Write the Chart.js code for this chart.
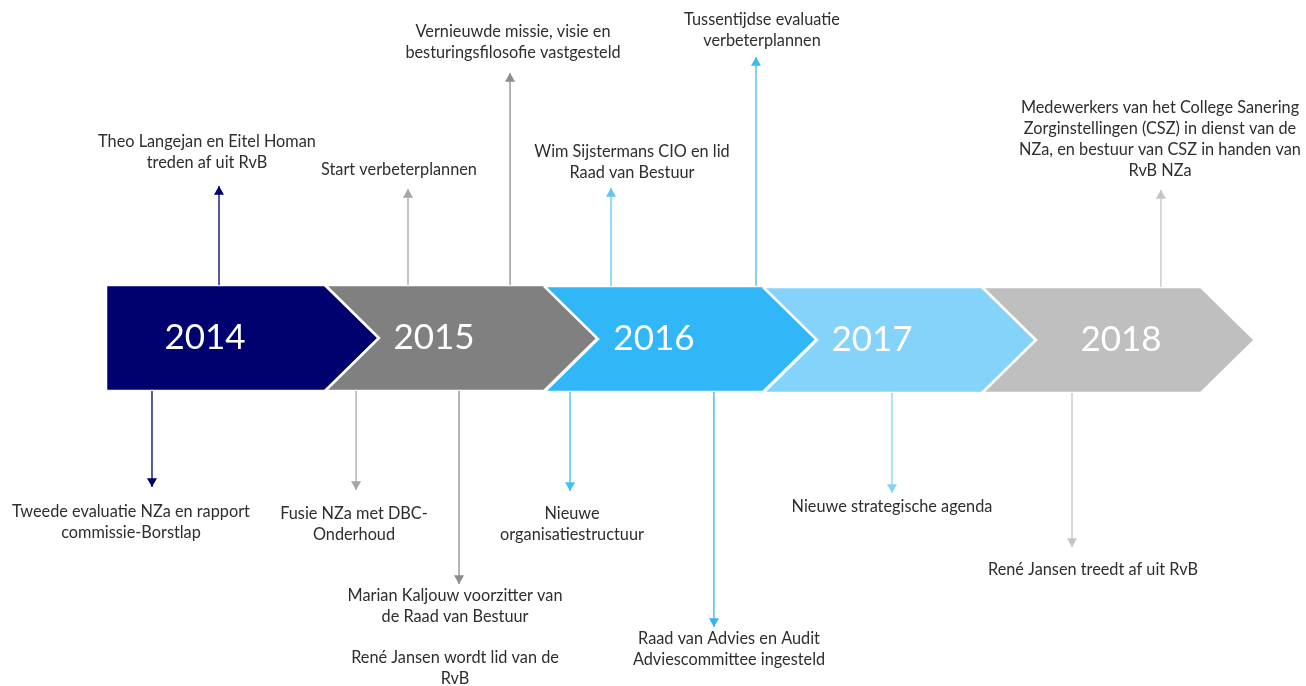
<!DOCTYPE html>
<html>
<head>
<meta charset="utf-8">
<script src="https://cdn.jsdelivr.net/npm/chart.js@4/dist/chart.umd.min.js"></script>
<style>
html,body{margin:0;padding:0;background:#fff;overflow:hidden}
#wrap{width:1306px;height:686px}
</style>
</head>
<body>
<div id="wrap"><canvas id="c" width="1306" height="686"></canvas></div>
<script>
// ---------- DATA ----------
const years = ['2014', '2015', '2016', '2017', '2018'];
const yearStart = [2014, 2015, 2016, 2017, 2018];

const eventText = [
  ['Theo Langejan en Eitel Homan', 'treden af uit RvB'],
  ['Tweede evaluatie NZa en rapport', 'commissie-Borstlap'],
  ['Start verbeterplannen'],
  ['Vernieuwde missie, visie en', 'besturingsfilosofie vastgesteld'],
  ['Fusie NZa met DBC-', 'Onderhoud'],
  ['Marian Kaljouw voorzitter van', 'de Raad van Bestuur', '', 'René Jansen wordt lid van de', 'RvB'],
  ['Wim Sijstermans CIO en lid', 'Raad van Bestuur'],
  ['Tussentijdse evaluatie', 'verbeterplannen'],
  ['Nieuwe', 'organisatiestructuur'],
  ['Raad van Advies en Audit', 'Adviescommittee ingesteld'],
  ['Nieuwe strategische agenda'],
  ['Medewerkers van het College Sanering', 'Zorginstellingen (CSZ) in dienst van de', 'NZa, en bestuur van CSZ in handen van', 'RvB NZa'],
  ['René Jansen treedt af uit RvB']
];
// position of each event on the time axis (fractional year)
const eventDate = [2014.516, 2014.210, 2015.379, 2015.845, 2015.142, 2015.612, 2016.306, 2016.968, 2016.119, 2016.776, 2017.589, 2018.817, 2018.411];
// which side of the band the event sits on
const eventSide = ['up', 'down', 'up', 'up', 'down', 'down', 'up', 'up', 'down', 'down', 'down', 'up', 'down'];
// how far the stalk reaches (level of the arrow tip)
const eventReach = [186, 487, 189, 73, 490, 584, 188, 57, 491, 627, 493, 190, 547];
// year band each event belongs to
const eventYearIdx = [0, 0, 1, 1, 1, 1, 2, 2, 2, 2, 3, 4, 4];

// ---------- STYLE / LAYOUT ----------
const yearColors = ['#00006E', '#808080', '#31B6F7', '#84D3FA', '#BFBFBF'];
const arrowColors = ['#00006E', '#00006E', '#A6A6A6', '#8C8C8C', '#A6A6A6', '#8C8C8C', '#5EC6F6', '#3DB9F5', '#45BEF7', '#33B5F5', '#84D3FA', '#C4C4C4', '#C4C4C4'];
const PX_PER_YEAR = 219;
const X_MIN = 2014 - 106 / PX_PER_YEAR;
const X_MAX = X_MIN + 1306 / PX_PER_YEAR;
const BAND_TOP = 285, BAND_BOT = 391, BAND_MID = 338;
const bandShift = [0, 0, 1, 2, 2];
const TIP = 54 / PX_PER_YEAR;
const HEAD_R = 5.8;
const yearLabelAt = [2014.452, 2015.498, 2016.502, 2017.498, 2018.635];
// label anchor: [x center (px), y of first line center (px)]
const labelPos = [
  [207, 142], [131, 512], [399, 170], [513, 32], [354, 514], [455, 596],
  [632, 152], [762, 20], [572, 514], [729, 639], [892, 507], [1160, 108], [1093, 570]
];
const LINE_H = 21;
const TEXT_FONT = '400 16.3px Lato, "Open Sans", sans-serif';
const YEAR_FONT = '400 35px Lato, "Open Sans", sans-serif';

// ---------- DATASETS ----------
const datasets = [];
yearStart.forEach((s, i) => {
  const e = s + 1;
  const t = BAND_TOP + bandShift[i], b = BAND_BOT + bandShift[i], m = BAND_MID + bandShift[i];
  const pts = i === 0
    ? [{x: s, y: t}, {x: e, y: t}, {x: e + TIP, y: m}, {x: e, y: b}, {x: s, y: b}, {x: s, y: t}]
    : [{x: s, y: t}, {x: e, y: t}, {x: e + TIP, y: m}, {x: e, y: b}, {x: s, y: b}, {x: s + TIP, y: m}, {x: s, y: t}];
  datasets.push({
    label: years[i],
    data: pts,
    showLine: true,
    fill: 'shape',
    backgroundColor: yearColors[i],
    borderColor: '#ffffff',
    borderWidth: 2.5,
    pointRadius: 0,
    tension: 0,
    order: 20 - i,
    clip: false
  });
});
eventDate.forEach((d, i) => {
  const up = eventSide[i] === 'up';
  const sh = bandShift[eventYearIdx[i]];
  const edge = up ? BAND_TOP + sh : BAND_BOT + sh;
  const tip = eventReach[i];
  const head = up ? tip + HEAD_R : tip - HEAD_R;
  datasets.push({
    label: 'event' + i,
    data: [{x: d, y: edge}, {x: d, y: head}, {x: d, y: tip}],
    showLine: true,
    fill: false,
    borderColor: arrowColors[i],
    borderWidth: 1.3,
    pointStyle: 'triangle',
    pointRadius: [0, HEAD_R, 0],
    pointRotation: up ? 0 : 180,
    pointBackgroundColor: arrowColors[i],
    pointBorderWidth: 0,
    order: 1,
    clip: false
  });
});

// ---------- TEXT PLUGIN ----------
const textPlugin = {
  id: 'timelineText',
  afterDatasetsDraw(chart) {
    const {ctx, scales: {x, y}} = chart;
    ctx.save();
    ctx.textAlign = 'center';
    ctx.textBaseline = 'middle';
    ctx.fillStyle = '#ffffff';
    ctx.font = YEAR_FONT;
    years.forEach((t, i) => {
      ctx.fillText(t, x.getPixelForValue(yearLabelAt[i]), y.getPixelForValue(BAND_MID + bandShift[i]));
    });
    ctx.fillStyle = '#2e2e2e';
    ctx.font = TEXT_FONT;
    eventText.forEach((lines, i) => {
      const [cx, cy] = labelPos[i];
      lines.forEach((ln, k) => {
        if (ln) ctx.fillText(ln, cx, cy + k * LINE_H - (k >= 3 && i === 5 ? 1 : 0));
      });
    });
    ctx.restore();
  }
};

new Chart(document.getElementById('c'), {
  type: 'scatter',
  data: {datasets},
  options: {
    responsive: false,
    animation: false,
    devicePixelRatio: 1,
    layout: {padding: 0},
    plugins: {legend: {display: false}, tooltip: {enabled: false}},
    scales: {
      x: {type: 'linear', display: false, min: X_MIN, max: X_MAX},
      y: {type: 'linear', display: false, min: 0, max: 686, reverse: true}
    }
  },
  plugins: [textPlugin]
});
</script>
</body>
</html>
